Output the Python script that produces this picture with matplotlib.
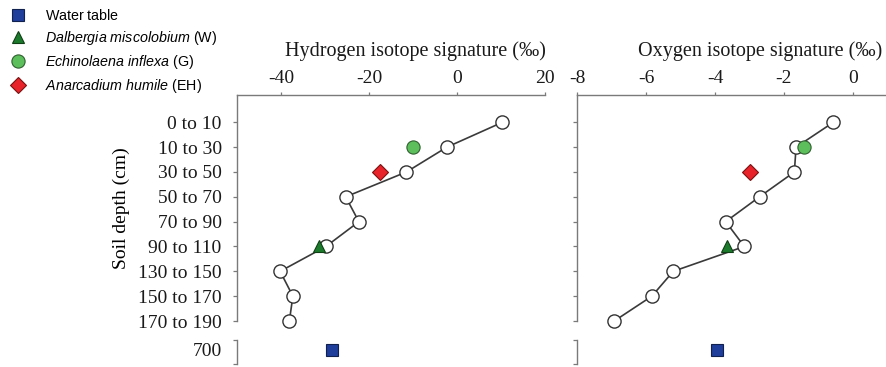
import numpy as np
import matplotlib
matplotlib.use("Agg")
import matplotlib.pyplot as plt
from matplotlib.lines import Line2D

plt.rcParams['font.family'] = ['Liberation Serif', 'DejaVu Serif']
plt.rcParams['mathtext.fontset'] = 'custom'
plt.rcParams['mathtext.rm'] = 'Liberation Sans'
plt.rcParams['mathtext.it'] = 'Liberation Sans:italic'

depths = ['0 to 10', '10 to 30', '30 to 50', '50 to 70', '70 to 90',
          '90 to 110', '130 to 150', '150 to 170', '170 to 190']
water_depth = 700

# soil water profiles
soil_h = [10.3, -2.3, -11.5, -25.3, -22.3, -29.8, -40.2, -37.3, -38.1]
soil_o = [-0.57, -1.65, -1.70, -2.71, -3.69, -3.15, -5.21, -5.83, -6.92]

# plant xylem water and groundwater: (row index, value)
grass_h, grass_o, grass_row = -10.0, -1.41, 1      # Echinolaena inflexa
herb_h, herb_o, herb_row = -17.4, -2.99, 2         # Anarcadium humile
tree_h, tree_o, tree_row = -31.3, -3.66, 5         # Dalbergia miscolobium
water_h, water_o = -28.5, -3.95

W, H = 886, 367
fig = plt.figure(figsize=(W / 100, H / 100), dpi=100)


def px_axes(x0, y0, x1, y1):
    return fig.add_axes([x0 / W, 1 - y1 / H, (x1 - x0) / W, (y1 - y0) / H])


spine_col = '#7a7a7a'
line_col = '#3a3a3a'
tick_fs = 14


def style(ax):
    for s in ['right', 'bottom']:
        ax.spines[s].set_visible(False)
    for s in ['top', 'left']:
        ax.spines[s].set_color(spine_col)
        ax.spines[s].set_linewidth(1.0)
    ax.tick_params(colors=spine_col, labelcolor='#1a1a1a', labelsize=tick_fs,
                   direction='out', length=3, width=0.9)


panels = [
    (237, 545, (-50, 20), [-40, -20, 0, 20], soil_h, grass_h, herb_h, tree_h, water_h,
     'Hydrogen isotope signature (\u2030)', 415),
    (577, 887.5, (-8, 1), [-8, -6, -4, -2, 0], soil_o, grass_o, herb_o, tree_o, water_o,
     'Oxygen isotope signature (\u2030)', 760),
]

rows = np.arange(len(depths))
for i, (x0, x1, xlim, xt, soil, g, hb, tr, wt, title, tx) in enumerate(panels):
    ax = px_axes(x0, 95, x1, 321)
    style(ax)
    ax.set_xlim(*xlim)
    ax.set_ylim(8, -1.1)
    ax.xaxis.tick_top()
    ax.set_xticks(xt)
    ax.set_xticklabels([str(v) for v in xt])
    ax.set_yticks(rows)
    if i == 0:
        ax.set_yticklabels(depths)
        ax.set_ylabel('Soil depth (cm)', fontsize=tick_fs, labelpad=6)
    else:
        ax.set_yticklabels([])
    ax.tick_params(axis='y', pad=8)
    ax.tick_params(axis='x', pad=4, length=2)

    ax.plot(soil, rows, '-', color=line_col, lw=1.2, zorder=2)
    ax.plot(soil, rows, 'o', ms=9.5, mfc='white', mec='#333333', mew=1.0,
            clip_on=False, zorder=3)
    ax.plot([g], [grass_row], 'o', ms=9.5, mfc='#5cbf5c', mec='#2f5f2f', mew=0.8, zorder=4)
    ax.plot([hb], [herb_row], 'D', ms=8, mfc='#e8232a', mec='#7a1010', mew=0.8, zorder=4)
    ax.plot([tr], [tree_row], '^', ms=9, mfc='#1c7a2c', mec='#0f3f15', mew=0.8, zorder=4)
    fig.text(tx / W, 1 - 51 / H, title, ha='center', va='center', fontsize=14.5,
             color='#1a1a1a')

    # lower segment of the broken depth axis
    axb = px_axes(x0, 340, x1, 364)
    style(axb)
    axb.spines['top'].set_visible(False)
    axb.set_xlim(*xlim)
    axb.set_xticks([])
    axb.set_ylim(714, 690)
    axb.set_yticks([water_depth])
    axb.set_yticks([690, 714], minor=True)
    axb.tick_params(axis='y', which='major', length=0, pad=11)
    axb.tick_params(axis='y', which='minor', length=3, width=0.9, colors=spine_col)
    axb.set_yticklabels([str(water_depth)] if i == 0 else [])
    axb.plot([wt], [water_depth], 's', ms=8, mfc='#1f3e9c', mec='#10204f', mew=0.8,
             clip_on=False)

handles = [
    Line2D([], [], ls='', marker='s', ms=8, mfc='#1f3e9c', mec='#10204f', mew=0.8),
    Line2D([], [], ls='', marker='^', ms=9, mfc='#1c7a2c', mec='#0f3f15', mew=0.8),
    Line2D([], [], ls='', marker='o', ms=9.5, mfc='#5cbf5c', mec='#2f5f2f', mew=0.8),
    Line2D([], [], ls='', marker='D', ms=8, mfc='#e8232a', mec='#7a1010', mew=0.8),
]
labels = [
    r'$\mathrm{Water\ table}$',
    r'$\mathit{Dalbergia\ miscolobium}\ \mathrm{(W)}$',
    r'$\mathit{Echinolaena\ inflexa}\ \mathrm{(G)}$',
    r'$\mathit{Anarcadium\ humile}\ \mathrm{(EH)}$',
]
fig.legend(handles, labels, loc='upper left', bbox_to_anchor=(0.002, 1.0), frameon=False,
           fontsize=10.3, handlelength=1.2, handletextpad=1.3, labelspacing=0.42,
           borderpad=0.35, borderaxespad=0.2)

fig.savefig('out.png', dpi=100)
